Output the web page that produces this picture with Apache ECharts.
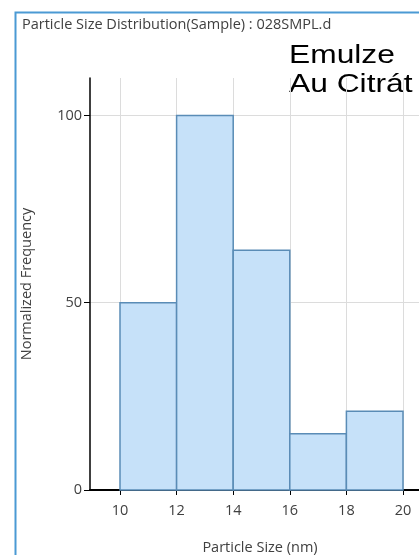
<!DOCTYPE html>
<html>
<head>
<meta charset="utf-8">
<script src="https://cdn.jsdelivr.net/npm/echarts@6/dist/echarts.min.js"></script>
<style>
  html, body { margin: 0; padding: 0; background: #ffffff; }
  #chart { width: 419px; height: 555px; }
</style>
</head>
<body>
<div id="chart"></div>
<script>
// Histogram bins (nm) and normalized frequencies
const binStart = [10, 12, 14, 16, 18];
const binEnd = [12, 14, 16, 18, 20];
const frequency = [50, 100, 64, 15, 21];

// Tick labels
const xTicks = [10, 12, 14, 16, 18, 20];
const yTicks = [0, 50, 100];

const titleText = 'Particle Size Distribution(Sample) : 028SMPL.d';
const noteText = 'Emulze\nAu Citrát';
const xName = 'Particle Size (nm)';
const yName = 'Normalized Frequency';

const uiFont = '"Open Sans", "Noto Sans", sans-serif';
const uiSize = 14.5;
const uiColor = '#404040';

const chart = echarts.init(document.getElementById('chart'), null, { renderer: 'canvas' });

const bins = binStart.map((s, i) => [s, binEnd[i], frequency[i]]);

chart.setOption({
  animation: false,
  backgroundColor: '#ffffff',
  title: {
    text: titleText,
    left: 17,
    top: 12,
    textStyle: { fontFamily: uiFont, fontSize: uiSize, fontWeight: 'normal', color: uiColor }
  },
  graphic: [
    {
      type: 'rect',
      silent: true,
      shape: { x: 15.5, y: 12.5, width: 420, height: 560 },
      style: { fill: 'none', stroke: '#4b9ad4', lineWidth: 2 }
    },
    {
      type: 'text',
      x: 289,
      y: 42,
      scaleX: 1.27,
      silent: true,
      style: {
        text: noteText,
        font: '25px "Liberation Sans", Arial, sans-serif',
        fill: '#000000',
        lineHeight: 29
      }
    }
  ],
  grid: { left: 90, right: 0, top: 78, bottom: 65, containLabel: false, outerBoundsMode: 'none' },
  xAxis: {
    type: 'value',
    min: 10 - 30 / 28.3,
    max: 10 - 30 / 28.3 + 329 / 28.3,
    name: xName,
    nameLocation: 'middle',
    nameGap: 50,
    nameTextStyle: { fontFamily: uiFont, fontSize: uiSize, color: uiColor, padding: [0, 0, 0, 11] },
    axisLine: { onZero: false, lineStyle: { color: '#000000', width: 2 } },
    axisTick: { show: true, length: 5, lineStyle: { color: '#000000' }, customValues: xTicks },
    axisLabel: { customValues: xTicks, margin: 13, fontFamily: uiFont, fontSize: uiSize, color: uiColor },
    splitLine: { show: true, lineStyle: { color: '#dcdcdc', width: 1 } }
  },
  yAxis: {
    type: 'value',
    min: 0,
    max: 110,
    name: yName,
    nameLocation: 'middle',
    nameGap: 56,
    nameTextStyle: { fontFamily: uiFont, fontSize: uiSize, color: uiColor },
    axisLine: { show: true, onZero: false, lineStyle: { color: '#000000', width: 1.5 } },
    axisTick: { show: true, length: 6, lineStyle: { color: '#000000' }, customValues: yTicks },
    axisLabel: { customValues: yTicks, margin: 8, fontFamily: uiFont, fontSize: uiSize, color: uiColor },
    splitLine: { show: true, lineStyle: { color: '#dcdcdc', width: 1 } }
  },
  series: [
    {
      type: 'custom',
      data: bins,
      encode: { x: [0, 1], y: 2 },
      renderItem: function (params, api) {
        const p0 = api.coord([api.value(0), api.value(2)]);
        const p1 = api.coord([api.value(1), 0]);
        return {
          type: 'rect',
          shape: { x: p0[0], y: p0[1], width: p1[0] - p0[0], height: p1[1] - p0[1] },
          style: { fill: '#c6e1f9', stroke: '#5a8cb6', lineWidth: 1.5 }
        };
      }
    }
  ]
});
</script>
</body>
</html>
